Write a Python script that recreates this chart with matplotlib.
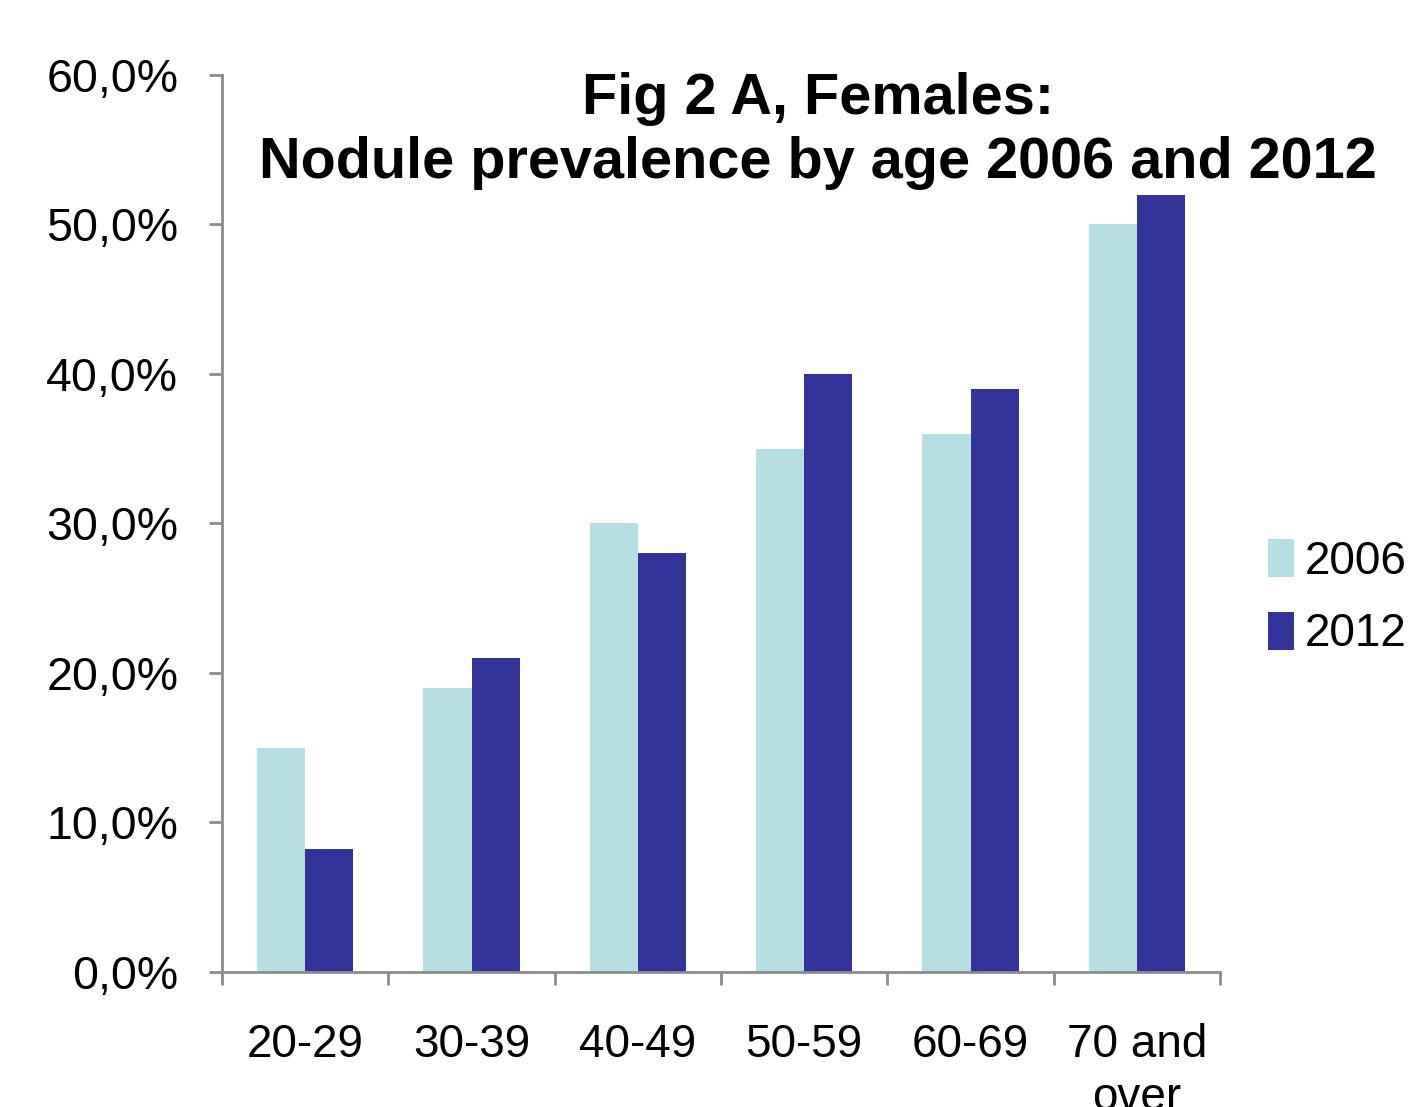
import matplotlib.pyplot as plt
import numpy as np
from matplotlib.ticker import FuncFormatter

plt.rcParams['font.family'] = ['Liberation Sans', 'DejaVu Sans']

age_groups = ['20-29', '30-39', '40-49', '50-59', '60-69', '70 and\nover']
prev_2006 = [15.0, 19.0, 30.0, 35.0, 36.0, 50.0]
prev_2012 = [8.2, 21.0, 28.0, 40.0, 39.0, 52.0]
years = ['2006', '2012']
colors = ['#B7DFE2', '#333399']

fig = plt.figure(figsize=(14.09, 11.07), dpi=100)
ax = fig.add_axes([0.1576, 0.1220, 0.7083, 0.8103])

x = np.arange(len(age_groups))
w = 0.29
ax.bar(x - w / 2, prev_2006, w, color=colors[0], label=years[0])
ax.bar(x + w / 2, prev_2012, w, color=colors[1], label=years[1])

ax.set_xlim(-0.5, len(age_groups) - 0.5)
ax.set_ylim(0, 60)
ax.set_yticks(np.arange(0, 61, 10))
ax.yaxis.set_major_formatter(FuncFormatter(lambda v, p: f'{v:.1f}%'.replace('.', ',')))

# category labels at centers, tick marks at boundaries
ax.set_xticks(x)
ax.set_xticklabels(age_groups, fontsize=33, linespacing=1.25, va='top')
ax.set_xticks(np.arange(-0.5, len(age_groups)), minor=True)
ax.tick_params(axis='x', which='major', length=0, pad=37)
ax.tick_params(axis='x', which='minor', length=9.5, width=2, color='#8c8c8c', direction='out')
ax.tick_params(axis='y', labelsize=33.5, length=9.5, width=2, color='#8c8c8c', pad=22)

for s in ['top', 'right']:
    ax.spines[s].set_visible(False)
for s in ['left', 'bottom']:
    ax.spines[s].set_color('#8c8c8c')
    ax.spines[s].set_linewidth(2)

fig.text(0.5806, 0.8815, 'Fig 2 A, Females:\nNodule prevalence by age 2006 and 2012',
         ha='center', va='center', fontsize=41.5, fontweight='bold', linespacing=1.24)

fig.legend(loc='center left', bbox_to_anchor=(0.884, 0.460), frameon=False,
           fontsize=33, handlelength=0.55, handleheight=0.9, handletextpad=0.25,
           labelspacing=0.6, borderpad=0)

fig.savefig('out.png', dpi=100)
